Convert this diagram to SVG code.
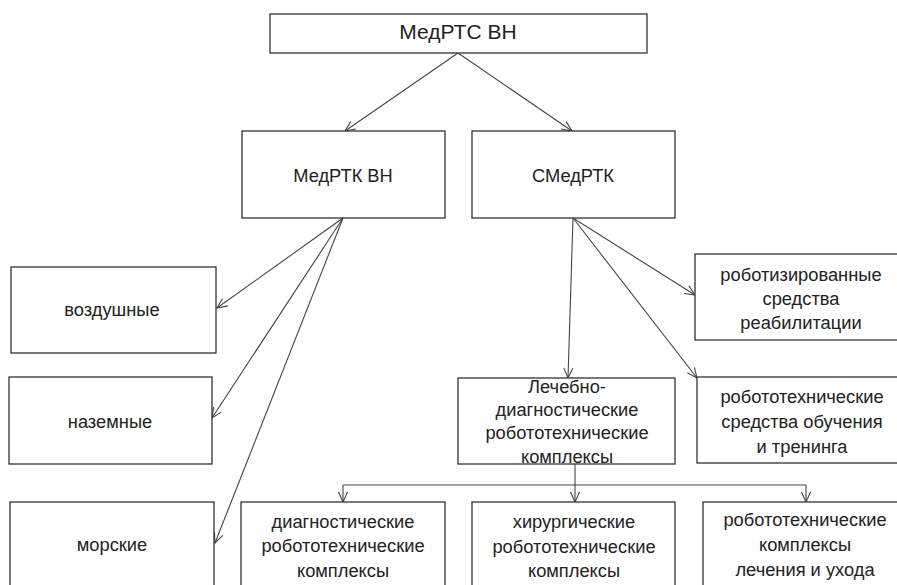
<svg xmlns="http://www.w3.org/2000/svg" width="897" height="585" viewBox="0 0 897 585">
<style>
.b{fill:#fff;stroke:#333;stroke-width:1.3}
.t{font-family:"Liberation Sans",Arial,sans-serif;font-size:18.3px;fill:#222;text-anchor:middle}
.c{fill:none;stroke:#444;stroke-width:1.1}
</style>
<defs>
<marker id="a" viewBox="0 0 12 12" refX="11" refY="6" markerWidth="12" markerHeight="12" markerUnits="userSpaceOnUse" orient="auto">
<path d="M1,1.5 L11,6 L1,10.5" fill="none" stroke="#444" stroke-width="1.1"/>
</marker>
</defs>
<rect width="897" height="585" fill="#fff"/>
<g id="connectors">
<path class="c" marker-end="url(#a)" d="M458,53 L345,131"/>
<path class="c" marker-end="url(#a)" d="M458,53 L572,131"/>
<path class="c" marker-end="url(#a)" d="M343,218 L217,308"/>
<path class="c" marker-end="url(#a)" d="M343,218 L212,418"/>
<path class="c" marker-end="url(#a)" d="M343,218 L215,543"/>
<path class="c" marker-end="url(#a)" d="M573,218 L568,378"/>
<path class="c" marker-end="url(#a)" d="M573,218 L695,295"/>
<path class="c" marker-end="url(#a)" d="M573,218 L697,378"/>
<path class="c" d="M575,464 L575,485"/>
<path class="c" d="M343,485 L806,485"/>
<path class="c" marker-end="url(#a)" d="M343,485 L343,502"/>
<path class="c" marker-end="url(#a)" d="M575,485 L575,502"/>
<path class="c" marker-end="url(#a)" d="M806,485 L806,502"/>
</g>
<g id="n-top"><rect class="b" x="270" y="14" width="377" height="39"/><text class="t" x="458" y="39" style="font-size:21px">МедРТС ВН</text></g>
<g id="n-medrtk"><rect class="b" x="242" y="131" width="203" height="87"/><text class="t" x="343" y="182">МедРТК ВН</text></g>
<g id="n-smedrtk"><rect class="b" x="472" y="131" width="203" height="87"/><text class="t" x="573" y="182">СМедРТК</text></g>
<g id="n-air"><rect class="b" x="11" y="267" width="205" height="86"/><text class="t" x="112" y="316">воздушные</text></g>
<g id="n-ground"><rect class="b" x="9" y="377" width="203" height="87"/><text class="t" x="110" y="428">наземные</text></g>
<g id="n-sea"><rect class="b" x="10" y="502" width="204" height="90"/><text class="t" x="112" y="551">морские</text></g>
<g id="n-rehab"><rect class="b" x="695" y="254" width="205" height="86"/><text class="t" x="801" y="281">роботизированные</text><text class="t" x="801" y="305">средства</text><text class="t" x="801" y="329">реабилитации</text></g>
<g id="n-treat"><rect class="b" x="458" y="378" width="217" height="86"/><text class="t" x="567" y="393">Лечебно-</text><text class="t" x="567" y="416">диагностические</text><text class="t" x="567" y="439">робототехнические</text><text class="t" x="567" y="463">комплексы</text></g>
<g id="n-train"><rect class="b" x="697" y="377" width="203" height="86"/><text class="t" x="802" y="403">робототехнические</text><text class="t" x="802" y="428">средства обучения</text><text class="t" x="802" y="453">и тренинга</text></g>
<g id="n-diag"><rect class="b" x="241" y="502" width="204" height="90"/><text class="t" x="343" y="528">диагностические</text><text class="t" x="343" y="552">робототехнические</text><text class="t" x="343" y="577">комплексы</text></g>
<g id="n-surg"><rect class="b" x="472" y="502" width="203" height="90"/><text class="t" x="574" y="528">хирургические</text><text class="t" x="574" y="553">робототехнические</text><text class="t" x="574" y="577">комплексы</text></g>
<g id="n-care"><rect class="b" x="703" y="502" width="197" height="90"/><text class="t" x="805" y="526">робототехнические</text><text class="t" x="805" y="551">комплексы</text><text class="t" x="805" y="576">лечения и ухода</text></g>
</svg>
